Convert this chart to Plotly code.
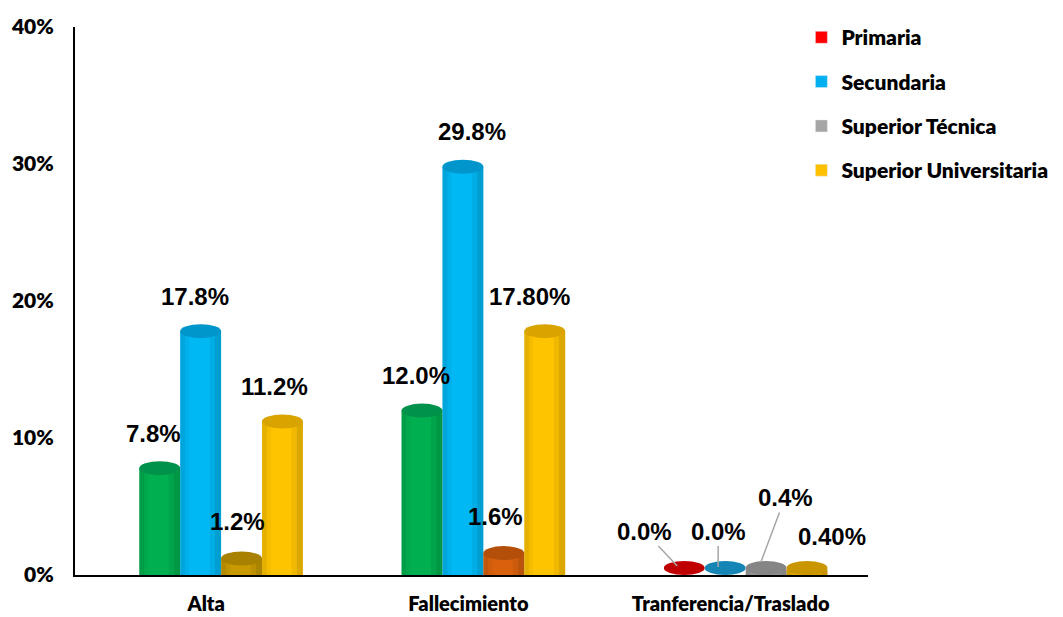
import plotly.graph_objects as go

# ---------------- data ----------------
categories = ["Alta", "Fallecimiento", "Tranferencia/Traslado"]
series_names = ["Primaria", "Secundaria", "Superior Técnica", "Superior Universitaria"]
primaria = [7.8, 12.0, 0.0]
secundaria = [17.8, 29.8, 0.0]
sup_tecnica = [1.2, 1.6, 0.4]
sup_universitaria = [11.2, 17.8, 0.4]
labels_primaria = ["7.8%", "12.0%", "0.0%"]
labels_secundaria = ["17.8%", "29.8%", "0.0%"]
labels_tecnica = ["1.2%", "1.6%", "0.4%"]
labels_universitaria = ["11.2%", "17.80%", "0.40%"]
y_tick_vals = [0, 10, 20, 30, 40]
y_tick_text = ["0%", "10%", "20%", "30%", "40%"]

values = [primaria, secundaria, sup_tecnica, sup_universitaria]
labels = [labels_primaria, labels_secundaria, labels_tecnica, labels_universitaria]

# ---------------- style ----------------
legend_colors = ["#FF0000", "#00B0F0", "#A5A5A5", "#FFC000"]
body_colors = [
    ["#00B050", "#00B050", "#E00000"],
    ["#00B8F4", "#00B8F4", "#1EA0D6"],
    ["#C89A00", "#D9610E", "#9C9C9C"],
    ["#FFC400", "#FFC400", "#E6AC00"],
]
cap_colors = [
    ["#00924A", "#00924A", "#C00000"],
    ["#0096CC", "#0096CC", "#1585B5"],
    ["#A88100", "#B44F0A", "#858585"],
    ["#D9A400", "#D9A400", "#C99600"],
]
# label placement (pixels): (xshift, yshift, ax, ay, arrow)
label_style = [
    [(-6, 35, 0, 0, False), (-6, 35, 0, 0, False), (-7, 9, -33, -35, True)],
    [(-6, 35, 0, 0, False), (9, 35, 0, 0, False), (-7, 8, 0, -36, True)],
    [(-4, 37, 0, 0, False), (-8, 37, 0, 0, False), (-5, 8, 24, -64, True)],
    [(-8, 35, 0, 0, False), (-15, 35, 0, 0, False), (25, 33, 0, 0, False)],
]

BAR_W = 0.156
SHIFT = 0.057
Y_MAX = 40
PLOT_H = 548
PX_PER_UNIT = PLOT_H / Y_MAX
CAP_H = 14
TXT = dict(family="Lato", size=21, color="black", weight=800)

fig = go.Figure()
shapes = []
caps = []
annotations = []
for i, (name, vals) in enumerate(zip(series_names, values)):
    off = -2 * BAR_W + i * BAR_W + SHIFT
    fig.add_trace(go.Bar(
        x=categories, y=vals, name=name, width=BAR_W, offset=off,
        marker=dict(color=body_colors[i], line=dict(width=0)),
        showlegend=False, hoverinfo="x+y",
    ))
    for j, v in enumerate(vals):
        cx = j + off + BAR_W / 2
        left = cx - BAR_W / 2
        # cylinder shading strips
        for a, b, op in [(0.0, 0.12, 0.10), (0.12, 0.22, 0.04),
                         (0.72, 0.85, 0.06), (0.85, 1.0, 0.14)]:
            if v > 0:
                shapes.append(dict(
                    type="rect", xref="x", yref="y", x0=left + a * BAR_W,
                    x1=left + b * BAR_W, y0=0, y1=v,
                    fillcolor=f"rgba(0,0,0,{op})", line=dict(width=0), layer="above",
                ))
        vpx = v * PX_PER_UNIT
        y0 = -min(CAP_H / 2, vpx)
        caps.append(dict(
            type="circle", xref="x", yref="y", ysizemode="pixel", yanchor=v,
            x0=left, x1=left + BAR_W, y0=y0, y1=y0 + CAP_H,
            fillcolor=cap_colors[i][j], line=dict(width=0), layer="above",
        ))
        xs, ys, ax, ay, arrow = label_style[i][j]
        ann = dict(
            x=cx, y=v, xref="x", yref="y", text=labels[i][j],
            xshift=xs, yshift=ys,
            font=dict(family="Liberation Sans", size=24, color="black", weight="bold"),
        )
        if arrow:
            ann.update(showarrow=True, ax=ax, ay=ay, arrowhead=0, arrowwidth=1.5,
                       arrowcolor="#A6A6A6", standoff=0)
        else:
            ann.update(showarrow=False, yanchor="middle")
        annotations.append(ann)

for name, col in zip(series_names, legend_colors):
    fig.add_trace(go.Bar(x=[None], y=[None], name=name, marker_color=col,
                         legendgroup=name, showlegend=True))

fig.update_layout(
    width=1063, height=617,
    margin=dict(l=75, r=195, t=27, b=42, autoexpand=False),
    paper_bgcolor="white", plot_bgcolor="white",
    barmode="group",
    shapes=shapes + caps, annotations=annotations,
    font=TXT,
    legend=dict(x=0.916, y=1.018, xanchor="left", yanchor="top",
                font=TXT, tracegroupgap=14, itemwidth=30,
                bgcolor="rgba(0,0,0,0)"),
    xaxis=dict(showline=True, linecolor="black", linewidth=2, ticks="",
               showgrid=False, tickfont=dict(family="Lato", size=20, color="black", weight=800),
               ticklabelstandoff=10, automargin=False),
    yaxis=dict(range=[0, Y_MAX], tickvals=y_tick_vals, ticktext=y_tick_text,
               showline=True, linecolor="black", linewidth=2, ticks="",
               showgrid=False, zeroline=False, tickfont=TXT,
               ticklabelstandoff=15, automargin=False),
)

fig.write_html("out.html")
